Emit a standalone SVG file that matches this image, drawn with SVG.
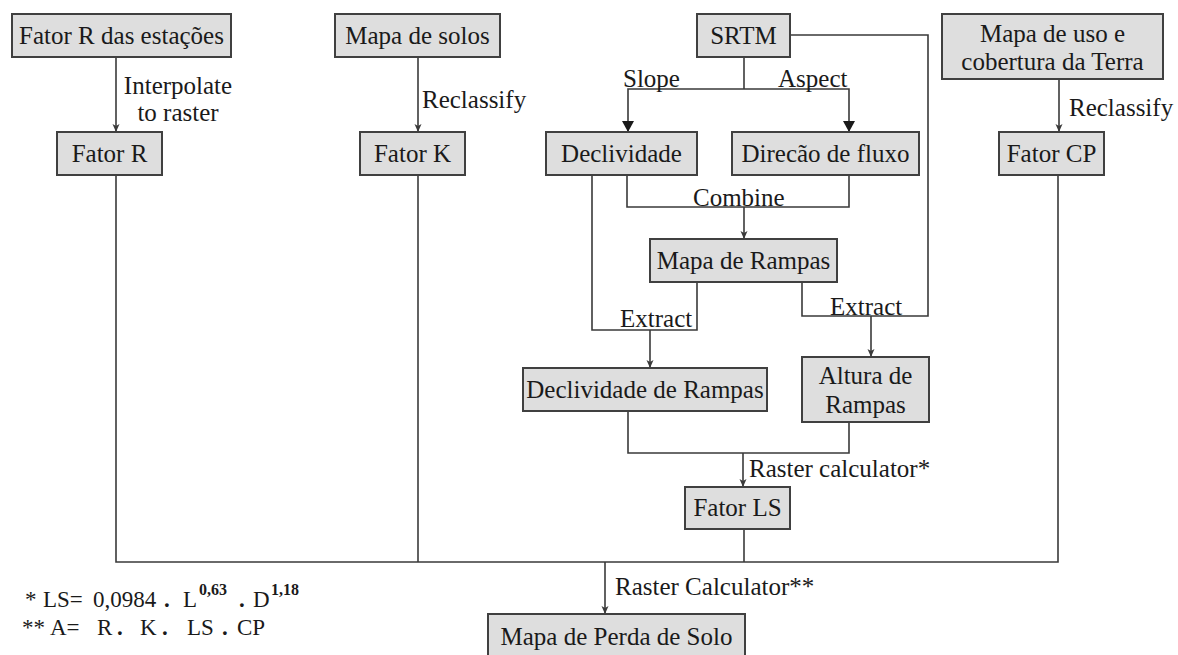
<svg xmlns="http://www.w3.org/2000/svg" width="1178" height="655" viewBox="0 0 1178 655">
<style>
.box{fill:#dedede;stroke:#404040;stroke-width:2}
.t{font-family:'Liberation Serif','DejaVu Serif',serif;font-size:25px;fill:#1a1a1a}
.c{text-anchor:middle}
.ln{fill:none;stroke:#3a3a3a;stroke-width:1.6}
.a{marker-end:url(#sm)}
.A{marker-end:url(#lg)}
.fn{font-family:'Liberation Serif','DejaVu Serif',serif;font-size:23px;fill:#1a1a1a}
.sup{font-size:16px;font-weight:bold}
</style>
<defs>
<marker id="sm" markerUnits="userSpaceOnUse" markerWidth="8" markerHeight="8" refX="8" refY="3.5" orient="auto">
<path d="M0,0 L8,3.5 L0,7 L2,3.5 z" fill="#3a3a3a"/>
</marker>
<marker id="lg" markerUnits="userSpaceOnUse" markerWidth="12" markerHeight="12" refX="11" refY="6" orient="auto">
<path d="M0,0 L11,6 L0,12 z" fill="#1a1a1a"/>
</marker>
</defs>
<rect width="1178" height="655" fill="#ffffff"/>

<g id="connectors">
<path class="ln a" d="M116,57 V132"/>
<path class="ln a" d="M418,57 V132"/>
<path class="ln" d="M790,35 H928 V316 H802 V282"/>
<path class="ln" d="M744,57 V89"/>
<path class="ln A" d="M744,89 H628 V132"/>
<path class="ln A" d="M744,89 H849 V132"/>
<path class="ln a" d="M1059,79 V132"/>
<path class="ln" d="M627,175 V207 H849 V175"/>
<path class="ln a" d="M744,207 V239"/>
<path class="ln" d="M592,175 V330 H697 V282"/>
<path class="ln a" d="M650,330 V368"/>
<path class="ln a" d="M871,316 V357"/>
<path class="ln" d="M628,411 V453 H849 V422"/>
<path class="ln a" d="M743,453 V487"/>
<path class="ln" d="M116,175 V562 H1058 V175"/>
<path class="ln" d="M418,175 V562"/>
<path class="ln" d="M744,529 V562"/>
<path class="ln a" d="M605,562 V614"/>
</g>

<g id="labels">
<text class="t c" x="178" y="94">Interpolate</text>
<text class="t c" x="178" y="121">to raster</text>
<text class="t" x="422" y="108">Reclassify</text>
<text class="t" x="623" y="87">Slope</text>
<text class="t" x="778" y="87">Aspect</text>
<text class="t" x="1069" y="116">Reclassify</text>
<text class="t" x="693" y="206">Combine</text>
<text class="t" x="620" y="327">Extract</text>
<text class="t" x="830" y="315">Extract</text>
<text class="t" x="749" y="477">Raster calculator*</text>
<text class="t" x="615" y="595">Raster Calculator**</text>
</g>

<g id="n-fator-r-estacoes"><rect class="box" x="12" y="14" width="219" height="43"/><text class="t c" x="121.5" y="44">Fator R das estações</text></g>
<g id="n-mapa-solos"><rect class="box" x="335" y="14" width="165" height="43"/><text class="t c" x="417.5" y="44">Mapa de solos</text></g>
<g id="n-srtm"><rect class="box" x="697" y="14" width="93" height="43"/><text class="t c" x="743.5" y="44">SRTM</text></g>
<g id="n-mapa-uso"><rect class="box" x="942" y="14" width="221" height="65"/><text class="t c" x="1052.5" y="42">Mapa de uso e</text><text class="t c" x="1052.5" y="70">cobertura da Terra</text></g>
<g id="n-fator-r"><rect class="box" x="57" y="132" width="105" height="43"/><text class="t c" x="109.5" y="162">Fator R</text></g>
<g id="n-fator-k"><rect class="box" x="360" y="132" width="105" height="43"/><text class="t c" x="412.5" y="162">Fator K</text></g>
<g id="n-declividade"><rect class="box" x="546" y="132" width="151" height="43"/><text class="t c" x="621.5" y="162">Declividade</text></g>
<g id="n-direcao"><rect class="box" x="732" y="132" width="187" height="43"/><text class="t c" x="825.5" y="162">Direcão de fluxo</text></g>
<g id="n-fator-cp"><rect class="box" x="999" y="132" width="105" height="43"/><text class="t c" x="1051.5" y="162">Fator CP</text></g>
<g id="n-mapa-rampas"><rect class="box" x="650" y="239" width="187" height="43"/><text class="t c" x="743.5" y="269">Mapa de Rampas</text></g>
<g id="n-decl-rampas"><rect class="box" x="523" y="368" width="244" height="43"/><text class="t c" x="645" y="398">Declividade de Rampas</text></g>
<g id="n-altura-rampas"><rect class="box" x="802" y="357" width="127" height="65"/><text class="t c" x="865.5" y="384">Altura de</text><text class="t c" x="865.5" y="413">Rampas</text></g>
<g id="n-fator-ls"><rect class="box" x="685" y="487" width="105" height="42"/><text class="t c" x="737.5" y="516">Fator LS</text></g>
<g id="n-perda-solo"><rect class="box" x="488" y="614" width="257" height="60"/><text class="t c" x="616.5" y="645">Mapa de Perda de Solo</text></g>

<g id="footnotes">
<text class="fn" x="25" y="607">*<tspan x="43">LS=</tspan><tspan x="93">0,0984</tspan><tspan x="164" font-weight="bold">.</tspan><tspan x="183">L</tspan><tspan class="sup" x="199" y="595">0,63</tspan><tspan x="239" y="607" font-weight="bold">.</tspan><tspan x="253">D</tspan><tspan class="sup" x="271" y="595">1,18</tspan></text>
<text class="fn" x="22" y="635">**<tspan x="50">A=</tspan><tspan x="97">R</tspan><tspan x="117" font-weight="bold">.</tspan><tspan x="140">K</tspan><tspan x="162" font-weight="bold">.</tspan><tspan x="187">LS</tspan><tspan x="222" font-weight="bold">.</tspan><tspan x="237">CP</tspan></text>
</g>
</svg>
